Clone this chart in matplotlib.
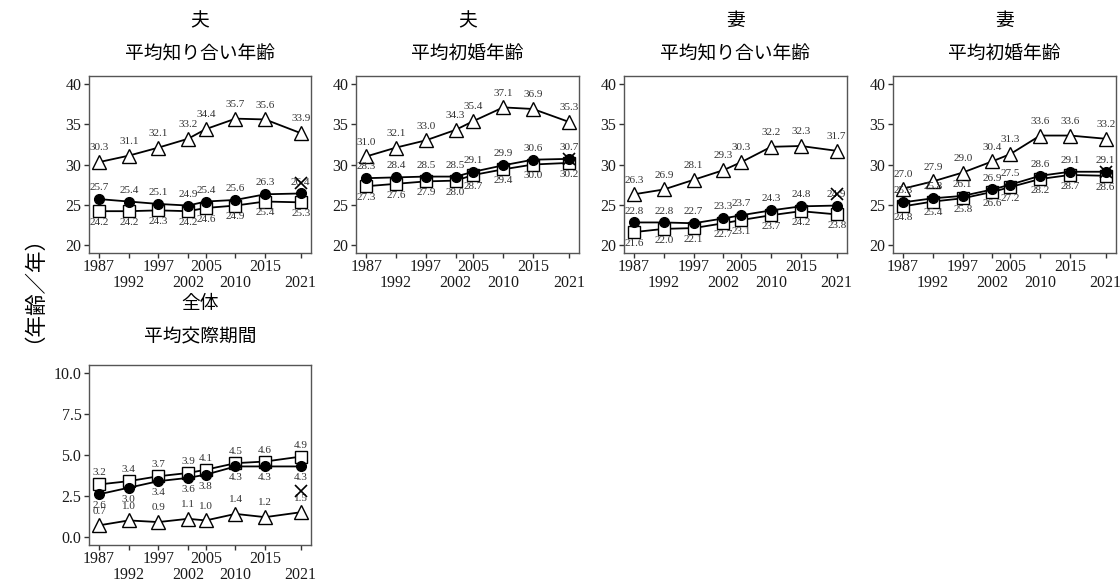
import matplotlib
matplotlib.use("Agg")
import matplotlib.pyplot as plt

plt.rcParams['font.family'] = ['Liberation Serif', 'Noto Sans CJK JP', 'DejaVu Sans']

years = [1987, 1992, 1997, 2002, 2005, 2010, 2015, 2021]
tick_labels = ['1987', '\n1992', '1997', '\n2002', '2005', '\n2010', '2015', '\n2021']

titles = ['夫\n平均知り合い年齢', '夫\n平均初婚年齢', '妻\n平均知り合い年齢',
          '妻\n平均初婚年齢', '全体\n平均交際期間']

circle_vals = [
    [25.7, 25.4, 25.1, 24.9, 25.4, 25.6, 26.3, 26.4],
    [28.3, 28.4, 28.5, 28.5, 29.1, 29.9, 30.6, 30.7],
    [22.8, 22.8, 22.7, 23.3, 23.7, 24.3, 24.8, 24.9],
    [25.3, 25.8, 26.1, 26.9, 27.5, 28.6, 29.1, 29.1],
    [2.6, 3.0, 3.4, 3.6, 3.8, 4.3, 4.3, 4.3],
]
square_vals = [
    [24.2, 24.2, 24.3, 24.2, 24.6, 24.9, 25.4, 25.3],
    [27.3, 27.6, 27.9, 28.0, 28.7, 29.4, 30.0, 30.2],
    [21.6, 22.0, 22.1, 22.7, 23.1, 23.7, 24.2, 23.8],
    [24.8, 25.4, 25.8, 26.6, 27.2, 28.2, 28.7, 28.6],
    [3.2, 3.4, 3.7, 3.9, 4.1, 4.5, 4.6, 4.9],
]
triangle_vals = [
    [30.3, 31.1, 32.1, 33.2, 34.4, 35.7, 35.6, 33.9],
    [31.0, 32.1, 33.0, 34.3, 35.4, 37.1, 36.9, 35.3],
    [26.3, 26.9, 28.1, 29.3, 30.3, 32.2, 32.3, 31.7],
    [27.0, 27.9, 29.0, 30.4, 31.3, 33.6, 33.6, 33.2],
    [0.7, 1.0, 0.9, 1.1, 1.0, 1.4, 1.2, 1.5],
]
cross_year = 2021
cross_vals = [27.7, 30.7, 26.3, 29.1, 2.8]

ylims = [(20, 40)] * 4 + [(0, 10)]
yticks = [[20, 25, 30, 35, 40]] * 4 + [[0.0, 2.5, 5.0, 7.5, 10.0]]

# axes boxes in figure fraction [left, bottom, width, height]
boxes = [
    [0.0795, 0.5645, 0.198, 0.3047],
    [0.3179, 0.5645, 0.199, 0.3047],
    [0.5571, 0.5645, 0.199, 0.3047],
    [0.7973, 0.5645, 0.199, 0.3047],
    [0.0795, 0.0620, 0.198, 0.3098],
]

fig = plt.figure(figsize=(11.2, 5.81), dpi=100)

lab_kw = dict(fontsize=8, color='#333333', ha='center', textcoords='offset points')

for i in range(5):
    ax = fig.add_axes(boxes[i])
    c, s, t = circle_vals[i], square_vals[i], triangle_vals[i]
    ax.plot(years, t, color='black', lw=1.3, marker='^', ms=10, mfc='white', mec='black', mew=1.0, zorder=3)
    ax.plot(years, s, color='black', lw=1.3, marker='s', ms=8, mfc='white', mec='black', mew=1.0, zorder=3)
    ax.plot(years, c, color='black', lw=1.3, marker='o', ms=7, mfc='black', mec='black', zorder=4)
    ax.plot([cross_year], [cross_vals[i]], ls='none', marker='x', ms=8, mec='black', mew=1.2, zorder=5)

    circle_up = c[0] > s[0]
    for x, yc, ys, yt in zip(years, c, s, t):
        ax.annotate(f'{yt:.1f}', (x, yt), xytext=(0, 7), va='bottom', **lab_kw)
        ax.annotate(f'{yc:.1f}', (x, yc), xytext=(0, 5 if circle_up else -5),
                    va='bottom' if circle_up else 'top', **lab_kw)
        ax.annotate(f'{ys:.1f}', (x, ys), xytext=(0, -5 if circle_up else 5),
                    va='top' if circle_up else 'bottom', **lab_kw)

    lo, hi = ylims[i]
    pad = (hi - lo) * 0.05
    ax.set_ylim(lo - pad, hi + pad)
    ax.set_yticks(yticks[i])
    if i == 4:
        ax.set_yticklabels([f'{v:.1f}' for v in yticks[i]])
    ax.set_xlim(1987 - 1.7, 2021 + 1.7)
    ax.set_xticks(years)
    ax.set_xticklabels(tick_labels, linespacing=1.0)
    ax.tick_params(labelsize=11.5, colors='#333333', length=3.5, width=1.0, pad=2, labelcolor='#1a1a1a')
    ax.tick_params(axis='x', pad=1)
    for sp in ax.spines.values():
        sp.set_color('#555555')
        sp.set_linewidth(1.0)
    ax.set_title(titles[i], fontsize=13.5, linespacing=2.2, pad=16 if i == 4 else 12)

fig.text(0.021, 0.52, '（年齢／年）', rotation=90, va='center', ha='center', fontsize=15.5)

fig.savefig('out.png', dpi=100)
